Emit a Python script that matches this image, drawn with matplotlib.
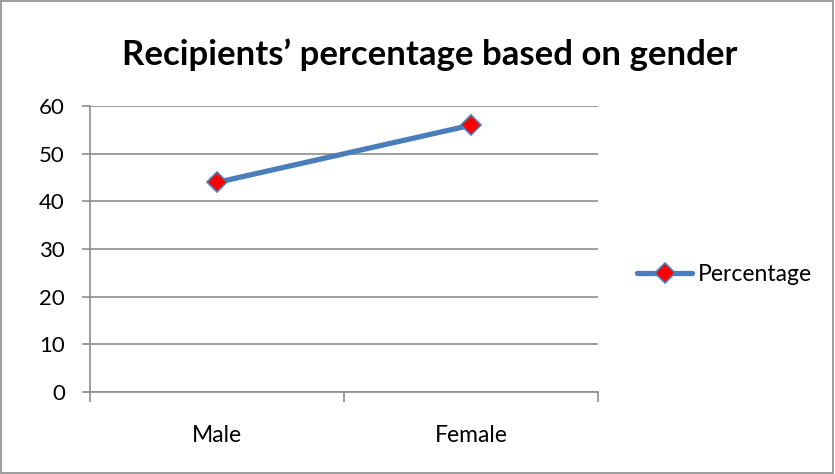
import matplotlib.pyplot as plt
from matplotlib.patches import Rectangle

categories = ['Male', 'Female']
percentage = [44, 56]
y_ticks = [0, 10, 20, 30, 40, 50, 60]

plt.rcParams['font.family'] = ['Lato', 'DejaVu Sans']

fig = plt.figure(figsize=(8.35, 4.74), dpi=100)
ax = fig.add_axes([0.1078, 0.173, 0.716 - 0.1078, 0.776 - 0.173])

x = list(range(len(categories)))
line, = ax.plot(x, percentage, color='#4A7EBB', linewidth=3.8, marker='D',
                markersize=10, markerfacecolor='#FF0000',
                markeredgecolor='#4A7EBB', markeredgewidth=1.2,
                label='Percentage', solid_capstyle='round')

ax.set_xlim(-0.5, len(categories) - 0.5)
ax.set_ylim(0, 60)
ax.set_yticks(y_ticks)
ax.yaxis.grid(True, color='#8C8C8C', linewidth=1.2)
ax.set_axisbelow(True)

# category boundary ticks, labels in the middle
ax.set_xticks([i - 0.5 for i in range(len(categories) + 1)])
ax.set_xticklabels([])
ax.set_xticks(x, minor=True)
ax.set_xticklabels(categories, minor=True, fontsize=16.5)
ax.tick_params(axis='x', which='minor', length=0, pad=24)
ax.tick_params(axis='x', which='major', length=7, color='#8C8C8C', width=1.2)
ax.tick_params(axis='y', length=6, color='#8C8C8C', width=1.2, labelsize=16, pad=12)

for side in ['top', 'right']:
    ax.spines[side].set_visible(False)
for side in ['left', 'bottom']:
    ax.spines[side].set_color('#8C8C8C')
    ax.spines[side].set_linewidth(1.2)

fig.text(0.514, 0.863, 'Recipients\u2019 percentage based on gender',
         ha='center', va='baseline', fontsize=25, fontweight='bold')

fig.legend(handles=[line], loc='center left', bbox_to_anchor=(0.763, 0.42),
           frameon=False, fontsize=16.5, handlelength=2.4, handletextpad=0.25,
           borderpad=0, borderaxespad=0)

fig.patches.append(Rectangle((0.001, 0.002), 0.997, 0.995, transform=fig.transFigure,
                             fill=False, edgecolor='#8C8C8C', linewidth=1.2))

fig.savefig('out.png', dpi=100)
